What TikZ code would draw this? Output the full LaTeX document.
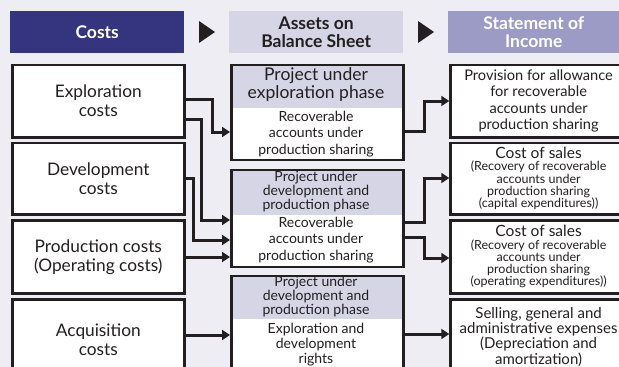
\documentclass[tikz,border=0pt]{standalone}
\usepackage{fontspec}
\setmainfont{Lato}
\usetikzlibrary{arrows.meta,calc}
\definecolor{bg}{HTML}{EDEDF3}
\definecolor{navy}{HTML}{35347F}
\definecolor{lav}{HTML}{D5D5E6}
\definecolor{lavdark}{HTML}{9C9BC5}
\definecolor{ink}{HTML}{231F20}
\begin{document}
\begin{tikzpicture}[x=1pt,y=-1pt,
  hdr/.style={anchor=north west,inner sep=0pt,minimum height=42pt,align=center,font=\bfseries\fontsize{17.5}{17.5}\selectfont},
  box/.style={draw=ink,line width=2.6pt,fill=white,inner sep=0pt,anchor=north west,minimum width=172pt,align=center,text=ink},
  mbox/.style={box,path picture={\fill[lav] (path picture bounding box.north west) rectangle ([yshift=-#1]path picture bounding box.north east);}},
  txt/.style={align=center,text=ink,inner sep=0pt},
  conn/.style={draw=ink,line width=3pt},
  arr/.style={conn,-{Triangle[length=8pt,width=10pt]}},
]
\fill[bg] (0,0) rectangle (619,367);
\useasboundingbox (0,0) rectangle (619,367);
\clip (0,0) rectangle (619,367);

% headers
\node[hdr,fill=navy,text=white,minimum width=174pt,font=\bfseries\fontsize{17.5}{18}\selectfont] (hc) at (10,11) {Costs};
\node[hdr,fill=lav,text=ink,minimum width=174pt] (ha) at (229,11) {Assets on\\Balance Sheet};
\node[hdr,fill=lavdark,text=white,minimum width=171pt] (hs) at (448,11) {Statement of\\Income};
\fill[ink] (199,21) -- (215,32) -- (199,43) -- cycle;
\fill[ink] (418,21) -- (434,32) -- (418,43) -- cycle;

% left column
\begin{scope}[every node/.append style={font=\fontsize{17.3}{19}\selectfont}]
\node[box,minimum height=72.5pt] (L1) at (11,63.5) {Exploration\\costs};
\node[box,minimum height=71.5pt] (L2) at (11,141.5) {Development\\costs};
\node[box,minimum height=73pt] (L3) at (11,219) {Production costs\\(Operating costs)};
\node[box,minimum height=80pt] (L4) at (11,298) {Acquisition\\costs};
\end{scope}

% middle column
\node[mbox=43.5pt,minimum height=95pt] (M1) at (230,63.5) {};
\node[mbox=45.5pt,minimum height=97pt] (M2) at (230,168.5) {};
\node[mbox=43.5pt,minimum height=104pt] (M3) at (230,274.5) {};
\node[txt,font=\fontsize{17.5}{18}\selectfont] (M1h) at (316,85) {Project under\\exploration phase};
\node[txt,font=\fontsize{14}{16.5}\selectfont] (M1b) at (316,134) {Recoverable\\accounts under\\production sharing};
\node[txt,font=\fontsize{14}{14}\selectfont] (M2h) at (316,191.5) {Project under\\development and\\production phase};
\node[txt,font=\fontsize{14}{16.5}\selectfont] (M2b) at (316,240) {Recoverable\\accounts under\\production sharing};
\node[txt,font=\fontsize{14}{14}\selectfont] (M3h) at (316,296.5) {Project under\\development and\\production phase};
\node[txt,font=\fontsize{14}{15}\selectfont] (M3b) at (316,345) {Exploration and\\development\\rights};

% right column
\node[box,minimum width=176pt,minimum height=72.5pt,font=\fontsize{14.6}{16.3}\selectfont] (R1) at (449.3,63.5) {Provision for allowance\\for recoverable\\accounts under\\production sharing};
\node[box,minimum width=176pt,minimum height=71.5pt,font=\fontsize{12.5}{12.3}\selectfont] (R2) at (449.3,141.5) {{\fontsize{15.5}{17}\selectfont Cost of sales}\\(Recovery of recoverable\\accounts under\\production sharing\\(capital expenditures))};
\node[box,minimum width=176pt,minimum height=73pt,font=\fontsize{12.5}{12.3}\selectfont] (R3) at (449.3,219) {{\fontsize{15.5}{17}\selectfont Cost of sales}\\(Recovery of recoverable\\accounts under\\production sharing\\(operating expenditures))};
\node[box,minimum width=176pt,minimum height=75pt,font=\fontsize{15}{15.3}\selectfont] (R4) at (449.3,298) {Selling, general and\\administrative expenses\\(Depreciation and\\amortization)};

% connectors left -> middle
\draw[arr] (L1.east |- 0,99) -- (212,99) |- (M1.west |- 0,132);
\draw[arr] (L1.east |- 0,119) -- (201,119) |- (M2.west |- 0,220);
\draw[arr] (L2.east |- 0,178) -- (193,178) |- (M2.west |- 0,240);
\draw[arr] (L3.east |- 0,257) -- (M2.west |- 0,257);
\draw[arr] (L4.east |- 0,335) -- (M3.west |- 0,335);

% connectors middle -> right
\draw[arr] (M1.east |- 0,131) -- (424,131) |- (R1.west |- 0,101);
\draw[arr] (M2.east |- 0,222) -- (424,222) |- (R2.west |- 0,178);
\draw[arr] (M2.east |- 0,237) -- (424,237) |- (R3.west |- 0,258);
\draw[arr] (M3.east |- 0,334) -- (R4.west |- 0,334);
\end{tikzpicture}
\end{document}
